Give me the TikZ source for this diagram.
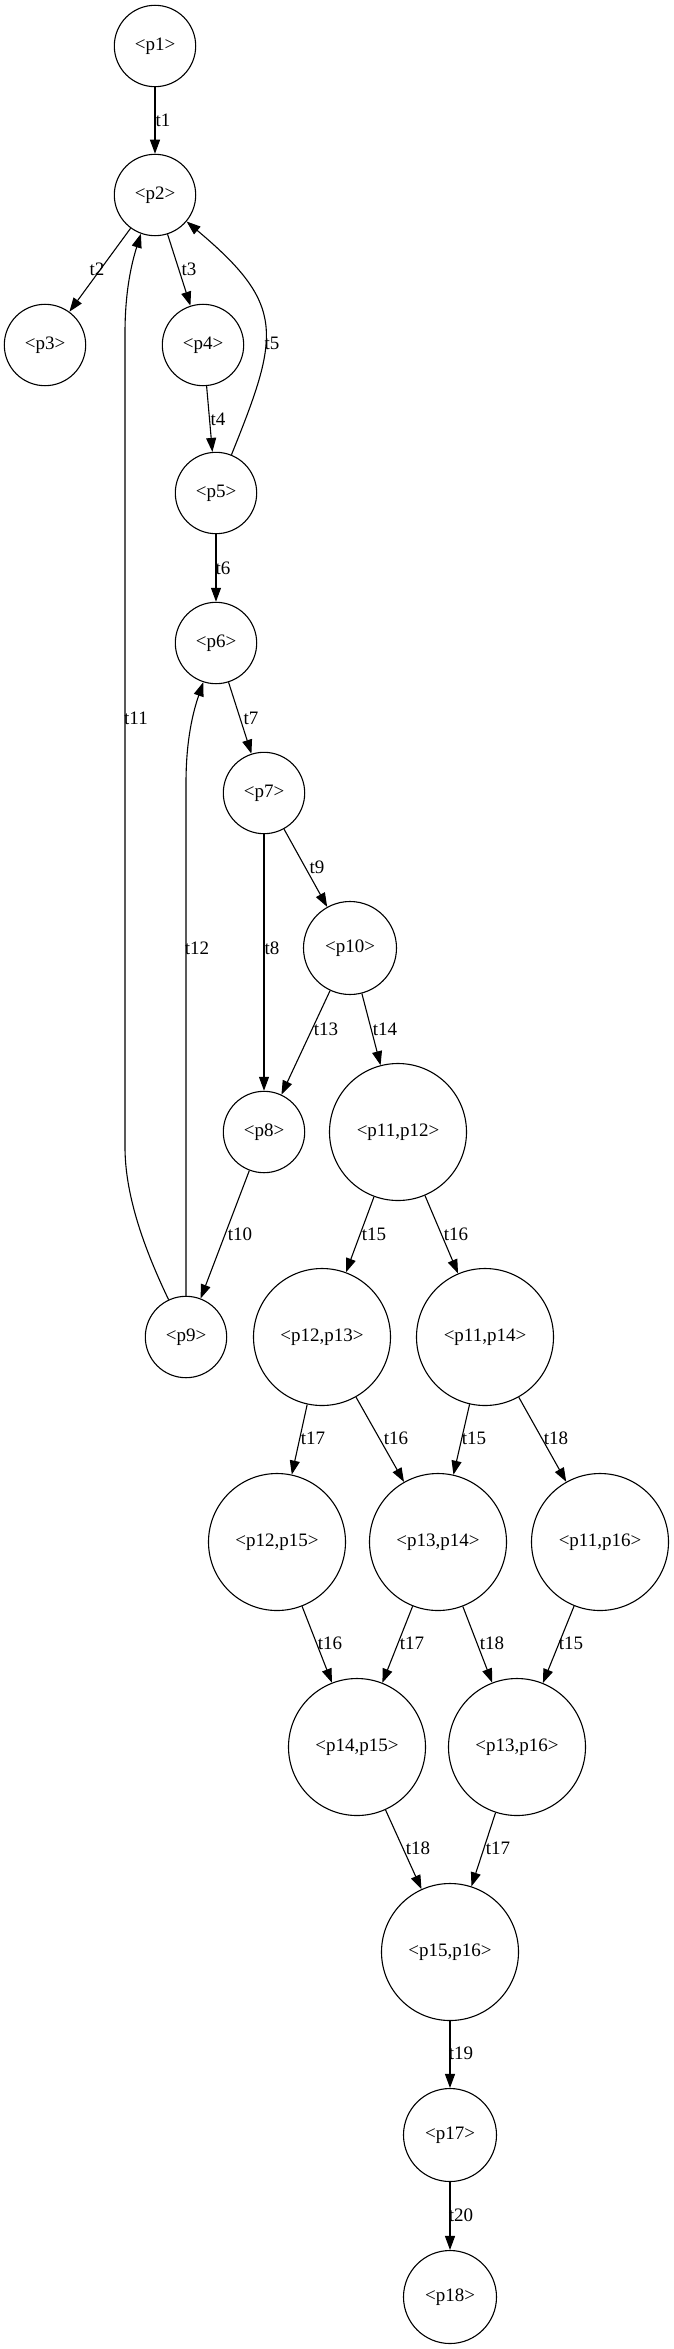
\documentclass[tikz,border=0pt]{standalone}
\usepackage{fontspec}
\setmainfont{Liberation Serif}
\usetikzlibrary{arrows.meta}
\begin{document}
\begin{tikzpicture}[x=1pt,y=1pt,
  place/.style={draw, circle, line width=1.1pt, inner sep=0pt, font=\fontsize{19}{22}\selectfont},
  sm/.style={place, minimum size=81.4pt},
  md/.style={place, minimum size=93pt},
  lg/.style={place, minimum size=137pt},
  arr/.style={draw, line width=1.1pt, -{Triangle[length=14pt,width=10pt]}},
  lbl/.style={font=\fontsize{19}{22}\selectfont, inner sep=0pt}]
\useasboundingbox (0,0) rectangle (673,-2349);
\node[sm] (p1) at (155,-46) {<p1>};
\node[sm] (p2) at (155,-195) {<p2>};
\node[sm] (p3) at (45,-345) {<p3>};
\node[sm] (p4) at (203,-345) {<p4>};
\node[sm] (p5) at (216,-493) {<p5>};
\node[sm] (p6) at (216,-643) {<p6>};
\node[sm] (p7) at (264,-793) {<p7>};
\node[md] (p10) at (350,-948) {<p10>};
\node[sm] (p8) at (264,-1132) {<p8>};
\node[lg] (p11p12) at (398,-1132) {<p11,p12>};
\node[sm] (p9) at (186,-1337) {<p9>};
\node[lg] (p12p13) at (322,-1337) {<p12,p13>};
\node[lg] (p11p14) at (485,-1337) {<p11,p14>};
\node[lg] (p12p15) at (277,-1542) {<p12,p15>};
\node[lg] (p13p14) at (438,-1542) {<p13,p14>};
\node[lg] (p11p16) at (600,-1542) {<p11,p16>};
\node[lg] (p14p15) at (357,-1747) {<p14,p15>};
\node[lg] (p13p16) at (517,-1747) {<p13,p16>};
\node[lg] (p15p16) at (450,-1952) {<p15,p16>};
\node[md] (p17) at (450,-2135) {<p17>};
\node[md] (p18) at (450,-2297) {<p18>};

\draw[arr] (p1) -- (p2) node[lbl] (l1) at (163,-120) {t1};
\draw[arr] (p2) -- (p3) node[lbl] (l2) at (97,-269) {t2};
\draw[arr] (p2) -- (p4) node[lbl] (l3) at (189,-269) {t3};
\draw[arr] (p4) -- (p5) node[lbl] (l4) at (218,-419) {t4};
\draw[arr] (p5) to[out=68,in=-40,looseness=1.4] (p2);
\node[lbl] (l5) at (272,-343) {t5};
\draw[arr] (p5) -- (p6) node[lbl] (l6) at (223,-568) {t6};
\draw[arr] (p6) -- (p7) node[lbl] (l7) at (251,-718) {t7};
\draw[arr] (p7) -- (p8) node[lbl] (l8) at (272,-948) {t8};
\draw[arr] (p7) -- (p10) node[lbl] (l9) at (317,-867) {t9};
\draw[arr] (p8) -- (p9) node[lbl] (l10) at (240,-1234) {t10};
\draw[arr] (p9.115) .. controls (140,-1240) and (125,-1190) .. (125,-1147) -- (125,-333) .. controls (125,-290) and (132,-262) .. (p2.-110);
\node[lbl] (l11) at (136,-718) {t11};
\draw[arr] (p9.north) -- (186,-783) .. controls (186,-740) and (193,-712) .. (p6.-108);
\node[lbl] (l12) at (197,-948) {t12};
\draw[arr] (p10) -- (p8) node[lbl] (l13) at (326,-1029) {t13};
\draw[arr] (p10) -- (p11p12) node[lbl] (l14) at (385,-1029) {t14};
\draw[arr] (p11p12) -- (p12p13) node[lbl] (l15a) at (374,-1234) {t15};
\draw[arr] (p11p12) -- (p11p14) node[lbl] (l16a) at (456,-1234) {t16};
\draw[arr] (p12p13) -- (p12p15) node[lbl] (l17a) at (313,-1438) {t17};
\draw[arr] (p12p13) -- (p13p14) node[lbl] (l16b) at (396,-1438) {t16};
\draw[arr] (p11p14) -- (p13p14) node[lbl] (l15b) at (474,-1438) {t15};
\draw[arr] (p11p14) -- (p11p16) node[lbl] (l18a) at (556,-1438) {t18};
\draw[arr] (p12p15) -- (p14p15) node[lbl] (l16c) at (330,-1643) {t16};
\draw[arr] (p13p14) -- (p14p15) node[lbl] (l17b) at (412,-1643) {t17};
\draw[arr] (p13p14) -- (p13p16) node[lbl] (l18b) at (492,-1643) {t18};
\draw[arr] (p11p16) -- (p13p16) node[lbl] (l15c) at (571,-1643) {t15};
\draw[arr] (p14p15) -- (p15p16) node[lbl] (l18c) at (418,-1848) {t18};
\draw[arr] (p13p16) -- (p15p16) node[lbl] (l17c) at (498,-1848) {t17};
\draw[arr] (p15p16) -- (p17) node[lbl] (l19) at (461,-2053) {t19};
\draw[arr] (p17) -- (p18) node[lbl] (l20) at (461,-2215) {t20};
\end{tikzpicture}
\end{document}
